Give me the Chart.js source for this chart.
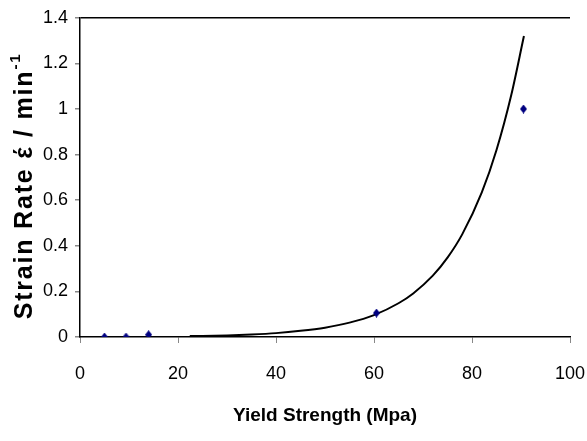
<!DOCTYPE html>
<html>
<head>
<meta charset="utf-8">
<script src="https://cdn.jsdelivr.net/npm/chart.js@4"></script>
<style>
  html, body { margin: 0; padding: 0; background: #fff; }
  canvas { display: block; }
</style>
</head>
<body>
<canvas id="strainChart" width="587" height="441"></canvas>
<script>
// measured points
const yieldStrength = [5, 9.4, 14, 60.5, 90.5];
const strainRate = [0, 0, 0.01, 0.105, 1.0];

// trendline
const trendX = [22.4, 30, 35, 40, 45, 50, 55, 60, 65, 68, 72, 75, 78, 82, 85, 88, 90.6];
const trendY = [0.004, 0.007, 0.011, 0.017, 0.027, 0.041, 0.063, 0.096, 0.148, 0.191, 0.269, 0.348, 0.45, 0.634, 0.82, 1.06, 1.32];

const xTicks = [0, 20, 40, 60, 80, 100];
const yTicks = [0, 0.2, 0.4, 0.6, 0.8, 1, 1.2, 1.4];

const yTitle = 'Strain Rate έ / min';
const yTitleSup = '-1';

const tickFont = { family: "'Liberation Sans', Arial, sans-serif", size: 18 };

// tall navy diamond marker
const diamond = document.createElement('canvas');
diamond.width = 7;
diamond.height = 9;
(() => {
    const d = diamond.getContext('2d');
    d.fillStyle = '#000080';
    d.beginPath();
    d.moveTo(3.5, 0);
    d.lineTo(7, 4.5);
    d.lineTo(3.5, 9);
    d.lineTo(0, 4.5);
    d.closePath();
    d.fill();
})();

// y-axis title with superscript
const yTitlePlugin = {
    id: 'yTitle',
    afterDraw(chart) {
        const c = chart.ctx;
        const big = "bold 25px 'Liberation Sans', Arial, sans-serif";
        const small = "bold 15px 'Liberation Sans', Arial, sans-serif";
        c.save();
        c.translate(25, 186);
        c.rotate(-Math.PI / 2);
        c.fillStyle = '#000';
        c.textBaseline = 'middle';
        if ('letterSpacing' in c) c.letterSpacing = '1.8px';
        c.font = big;
        const mainW = c.measureText(yTitle).width;
        c.font = small;
        const supW = c.measureText(yTitleSup).width;
        const x0 = -(mainW + supW) / 2;
        c.font = big;
        c.fillText(yTitle, x0, 0);
        c.font = small;
        c.fillText(yTitleSup, x0 + mainW, -9);
        c.restore();
    }
};

document.addEventListener('DOMContentLoaded', () => {
    const ctx = document.getElementById('strainChart').getContext('2d');
    new Chart(ctx, {
        type: 'scatter',
        data: {
            datasets: [{
                label: 'data',
                data: yieldStrength.map((x, i) => ({ x: x, y: strainRate[i] })),
                pointStyle: diamond,
                order: 0
            }, {
                label: 'trend',
                data: trendX.map((x, i) => ({ x: x, y: trendY[i] })),
                showLine: true,
                pointRadius: 0,
                borderColor: '#000',
                borderWidth: 2,
                cubicInterpolationMode: 'monotone',
                order: 1
            }]
        },
        options: {
            responsive: false,
            animation: false,
            layout: { padding: { left: 0, right: 17, top: 15, bottom: 0 } },
            plugins: {
                legend: { display: false },
                tooltip: { enabled: false }
            },
            scales: {
                x: {
                    type: 'linear',
                    min: 0, max: 100,
                    afterFit: s => {
                        s.height = 104;
                        s.paddingLeft = 0;
                        s.paddingRight = 0;
                    },
                    afterBuildTicks: s => { s.ticks = xTicks.map(v => ({ value: v })); },
                    border: { color: '#000', width: 1.5 },
                    grid: { drawOnChartArea: false, tickLength: 6, tickColor: '#888' },
                    ticks: { color: '#000', font: tickFont, padding: 20, maxRotation: 0 },
                    title: {
                        display: true,
                        text: 'Yield Strength (Mpa)',
                        color: '#000',
                        font: { family: "'Liberation Sans', Arial, sans-serif", size: 19, weight: 'bold' },
                        padding: { top: 0, bottom: 14 }
                    }
                },
                y: {
                    type: 'linear',
                    min: 0, max: 1.4,
                    afterFit: s => { s.width = 80; },
                    afterBuildTicks: s => { s.ticks = yTicks.map(v => ({ value: v })); },
                    border: { color: '#000', width: 1.5 },
                    grid: {
                        color: c => (c.tick && c.tick.value === 1.4) ? '#000' : 'rgba(0,0,0,0)',
                        lineWidth: 1.5,
                        tickLength: 5,
                        tickColor: '#888'
                    },
                    ticks: {
                        color: '#000',
                        font: tickFont,
                        padding: 7,
                        callback: v => String(+v.toFixed(1))
                    }
                }
            }
        },
        plugins: [yTitlePlugin]
    });
});
</script>
</body>
</html>
